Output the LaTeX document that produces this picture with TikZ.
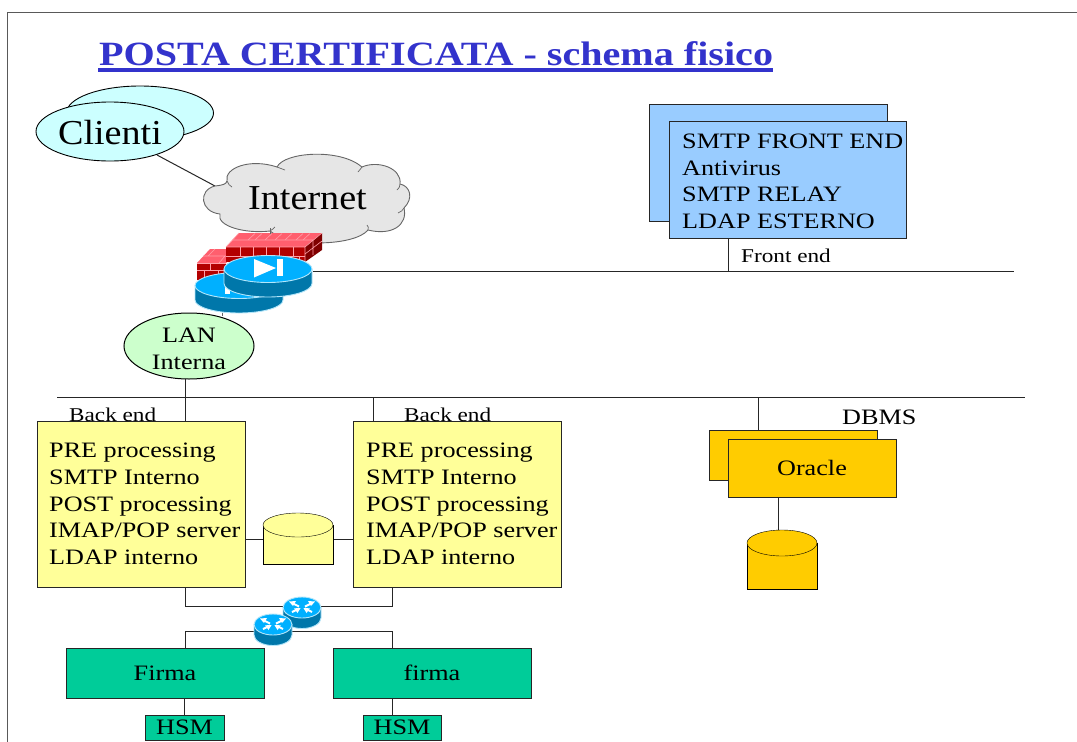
\documentclass[tikz,border=0pt]{standalone}
\usepackage{fontspec}
\usetikzlibrary{shapes.geometric}
\setmainfont{Liberation Serif}
\newfontfamily\spacedfont[FakeStretch=1.19]{Liberation Serif}
\newfontfamily\bigfont[FakeStretch=1.09]{Liberation Serif}
\newfontfamily\titlefont[FakeStretch=1.18]{Liberation Serif Bold}
\definecolor{cyanfill}{HTML}{CCFFFF}
\definecolor{bluefill}{HTML}{99CCFF}
\definecolor{greenfill}{HTML}{CCFFCC}
\definecolor{yellowfill}{HTML}{FFFF99}
\definecolor{orangefill}{HTML}{FFCC00}
\definecolor{tealfill}{HTML}{00CC99}
\definecolor{titleblue}{HTML}{3333CC}
\definecolor{cloudfill}{HTML}{E6E6E6}
\definecolor{rtop}{HTML}{00B0FF}
\definecolor{rside}{HTML}{0077AA}
\definecolor{redtop}{HTML}{FF5F6E}
\definecolor{redfront}{HTML}{B30000}
\definecolor{redside}{HTML}{7F0000}
\definecolor{brick}{HTML}{FF9FA8}
\tikzset{
  x=1pt,y=-1pt,
  line width=0.9pt,
  conn/.style={draw=black!85,line width=1pt},
  txtlabel/.style={inner sep=0pt,anchor=base west,font=\spacedfont\fontsize{22}{26.7}\selectfont,align=left},
  smalllabel/.style={inner sep=0pt,anchor=base west,font=\spacedfont\fontsize{19.5}{22}\selectfont},
  biglabel/.style={inner sep=0pt,anchor=center,font=\bigfont\fontsize{35}{38}\selectfont},
  boxnode/.style={draw=black!85,line width=1pt,inner sep=0pt,font=\spacedfont\fontsize{22}{26}\selectfont},
  thinmark/.style={draw=black!60,line width=0.7pt},
  brickline/.style={draw=brick,line width=0.6pt},
}
% cylinder: cx, top centre y, rx, ry, bottom centre y, top fill, side fill, edge
\newcommand{\cyl}[8]{%
  \path[draw=#8,line width=0.9pt,fill=#7]
    ({#1-#3},#2) -- ({#1-#3},#5) arc[start angle=180,end angle=360,x radius=#3,y radius=-#4]
    -- ({#1+#3},#2) -- cycle;
  \path[draw=#8,line width=0.9pt,fill=#6] (#1,#2) ellipse[x radius=#3,y radius=#4];
}
% small router cross arrows
\newcommand{\rcross}[2]{%
  \begin{scope}[shift={(#1,#2)},draw=white,fill=white,line width=2pt]
    \draw (-10,-4.5) -- (-3,-1); \draw (10,4.5) -- (3,1);
    \draw (10,-4.5) -- (3,-1); \draw (-10,4.5) -- (-3,1);
    \fill (-13,-6) -- (-6,-6.5) -- (-9,-1.5) -- cycle;
    \fill (13,-6) -- (6,-6.5) -- (9,-1.5) -- cycle;
    \fill (-1.5,0.6) -- (-8,0.8) -- (-4.5,5.5) -- cycle;
    \fill (1.5,0.6) -- (8,0.8) -- (4.5,5.5) -- cycle;
  \end{scope}}
\begin{document}
\begin{tikzpicture}
\useasboundingbox (0,0) rectangle (1077,742);
\fill[white] (0,0) rectangle (1077,742);
% slide frame
\draw[black!65,line width=1pt] (7.5,742) -- (7.5,12) -- (1077,12);
% title
\node[inner sep=0pt,anchor=base west,text=titleblue,font=\titlefont\fontsize{34}{36}\selectfont] (title) at (99,65) {POSTA CERTIFICATA - schema fisico};
\fill[titleblue] (98,68) rectangle (773,72);

% clients
\node[draw=black,line width=0.9pt,fill=cyanfill,ellipse,inner sep=0pt,minimum width=147pt,minimum height=54pt] (cliback) at (140,113) {};
\node[draw=black,line width=0.9pt,fill=cyanfill,ellipse,inner sep=0pt,minimum width=148pt,minimum height=59pt] (cliellipse) at (110,131.5) {};
\node[biglabel] (clienti) at (110,133) {Clienti};
\coordinate (cloudIn) at (215,186);
\coordinate (clientsEnd) at (157,155);
\draw[conn] (clientsEnd) -- (cloudIn);

% cloud
\path[draw=black!60,line width=0.9pt,fill=cloudfill]
  (215,186) .. controls (224,185) and (226,184) .. (227,181)
  .. controls (224,168) and (250,158) .. (277,167)
  .. controls (284,152) and (340,148) .. (362,167)
  .. controls (378,160) and (402,168) .. (400,184)
  .. controls (410,186) and (414,198) .. (404,208)
  .. controls (408,225) and (392,236) .. (368,230)
  .. controls (355,246) and (290,248) .. (270,231)
  .. controls (245,234) and (216,226) .. (220,214)
  .. controls (200,212) and (198,190) .. (215,186) -- cycle;
\draw[thinmark] (227,181) .. controls (228,184) and (230,186) .. (232,187);
\draw[thinmark] (277,167) .. controls (280,168) and (282,169) .. (285,170);
\draw[thinmark] (362,167) .. controls (361,168) and (360,170) .. (358,172);
\draw[thinmark] (400,184) .. controls (400,187) and (399,188) .. (397,190);
\draw[thinmark] (404,208) .. controls (403,210) and (401,212) .. (398,213);
\draw[thinmark] (368,230) .. controls (369,228) and (368,226) .. (367,225);
\draw[thinmark] (270,231) .. controls (272,230) and (274,228) .. (275,227);
\node[biglabel] (internet) at (307.5,198) {Internet};

% firewall small
\fill[redtop] (197,263) -- (210,249) -- (240,249) -- (226,263) -- cycle;
\fill[redfront] (197,263) rectangle (226,280);
\draw[brickline] (197,270) -- (226,270);
\draw[brickline] (197,263) -- (226,263) (210,263) -- (210,270) (204,270) -- (204,280) (218,270) -- (218,280);
\draw[brickline] (203,256) -- (233,256) (215,249) -- (208,256) (225,256) -- (219,263);
% firewall large
\fill[redtop] (226,247) -- (239,233) -- (322,233) -- (305,247) -- cycle;
\fill[redfront] (226,247) rectangle (305,262);
\fill[redside] (305,247) -- (322,233) -- (322,250) -- (305,262) -- cycle;
\draw[brickline] (232,240) -- (313,240) (226,247) -- (305,247) -- (322,233) (305,247) -- (305,262);
\draw[brickline] (239,233) -- (226,247);
\foreach \xx in {240,253,266,279,293} \draw[brickline] (\xx,247) -- (\xx,256);
\foreach \xx in {247,260,273,286,299} \draw[brickline] (\xx,256) -- (\xx,262);
\draw[brickline] (226,256) -- (305,256);
\foreach \xa/\xb in {255/248,272/265,292/285,310/303,262/255,282/275,303/296} \draw[brickline] (\xa,233.5) -- (\xb,240);
\draw[brickline] (305,254) -- (322,241) (313,240) -- (313,255);

\coordinate (fwTop) at (270,228);
\coordinate (fwBottom) at (270,234);
\draw[thinmark] (fwTop) -- (fwBottom);

% routers big
\cyl{239}{285.5}{44}{13}{300}{rtop}{rside}{cyan!30}
\fill[white] (224.5,287) rectangle (230,294);
\cyl{268}{269}{44}{13.5}{283.5}{rtop}{rside}{cyan!30}
\fill[white] (254,259) -- (254,277.5) -- (276,268) -- cycle;
\fill[white] (277,259) rectangle (283,276);
\coordinate (bigRouterEast) at (313,271);
\coordinate (frontBusEnd) at (1014,271);
\draw[conn] (bigRouterEast) -- (frontBusEnd);

% front-end boxes
\node[boxnode,fill=bluefill,minimum width=238pt,minimum height=117pt] (frontback) at (768,162.5) {};
\node[boxnode,fill=bluefill,minimum width=237pt,minimum height=117pt] (frontbox) at (787.5,179.5) {};
\node[txtlabel] (fronttext) at (682,228.5) {SMTP FRONT END\\Antivirus\\SMTP RELAY\\LDAP ESTERNO};
\coordinate (frontTap) at (728,271);
\draw[conn] (frontbox.south -| frontTap) -- (frontTap);
\node[smalllabel] (frontend) at (741,262) {Front end};

% LAN
\node[draw=black,line width=1pt,fill=greenfill,ellipse,inner sep=0pt,minimum width=130pt,minimum height=66pt] (lan) at (189,346) {};
\node[inner sep=0pt,font=\spacedfont\fontsize{22}{27}\selectfont,align=center] (lantext) at (189,349) {LAN\\Interna};

% back-end bus
\coordinate (busL) at (57,397);
\coordinate (busR) at (1025,397);
\draw[conn] (busL) -- (busR);

% yellow boxes
\node[boxnode,fill=yellowfill,minimum width=208pt,minimum height=166pt] (ybox1) at (141,504) {};
\node[boxnode,fill=yellowfill,minimum width=208pt,minimum height=166pt] (ybox2) at (457,504) {};
\node[txtlabel] (y1text) at (49,564.5) {PRE processing\\SMTP Interno\\POST processing\\IMAP/POP server\\LDAP interno};
\node[txtlabel] (y2text) at (366,564.5) {PRE processing\\SMTP Interno\\POST processing\\IMAP/POP server\\LDAP interno};
\node[smalllabel] (be1) at (69,421) {Back end};
\node[smalllabel] (be2) at (404,421) {Back end};
\coordinate (lanTap) at (185,379);
\draw[conn] (lanTap) -- (ybox1.north -| lanTap);
\coordinate (bus2) at (373,397);
\draw[conn] (bus2) -- (ybox2.north -| bus2);
\coordinate (lanUp) at (222,313);
\coordinate (lanUpEnd) at (222,316);
\draw[thinmark] (lanUp) -- (lanUpEnd);

% shared disk
\coordinate (diskW) at (263,539);
\coordinate (diskE) at (333,539);
\draw[conn] (ybox1.east |- diskW) -- (diskW);
\draw[conn] (diskE) -- (ybox2.west |- diskE);
\path[draw=black,fill=yellowfill] (263,525) rectangle (333,564);
\path[draw=black,fill=yellowfill] (298,525) ellipse[x radius=35,y radius=12];

% teal boxes and wiring
\node[boxnode,fill=tealfill,minimum width=198pt,minimum height=50pt] (firma1) at (165,673) {Firma};
\node[boxnode,fill=tealfill,minimum width=198pt,minimum height=50pt] (firma2) at (432,673) {firma};
\node[boxnode,fill=tealfill,minimum width=79pt,minimum height=25pt] (hsm1) at (184.5,727.5) {HSM};
\node[boxnode,fill=tealfill,minimum width=78pt,minimum height=25pt] (hsm2) at (402,727.5) {HSM};
\coordinate (upL) at (185,606);
\coordinate (upR) at (392,606);
\coordinate (lowL) at (185,631);
\coordinate (lowR) at (392,631);
\draw[conn] (ybox1.south -| upL) -- (upL) -- (upR) -- (ybox2.south -| upR);
\draw[conn] (firma1.north -| lowL) -- (lowL) -- (lowR) -- (firma2.north -| lowR);
\draw[conn] (firma1.south -| hsm1) -- (hsm1.north);
\draw[conn] (firma2.south -| lowR) -- (hsm2.north -| lowR);
\cyl{302}{607.5}{19}{10.5}{618}{rtop}{rside}{cyan!30}
\rcross{302}{607.5}
\cyl{273}{624.5}{19}{10.5}{635}{rtop}{rside}{cyan!30}
\rcross{273}{624.5}

% DBMS
\coordinate (dbTap) at (758,397);
\node[boxnode,fill=orangefill,minimum width=168pt,minimum height=50pt] (oback) at (793,455) {};
\draw[conn] (dbTap) -- (oback.north -| dbTap);
\node[boxnode,fill=orangefill,minimum width=168pt,minimum height=58pt] (oracle) at (812,468) {Oracle};
\node[txtlabel] (dbms) at (842,424) {DBMS};
\coordinate (dbCyl) at (778,530);
\draw[conn] (oracle.south -| dbCyl) -- (dbCyl);
\path[draw=black,fill=orangefill] (747,543) rectangle (817,589);
\path[draw=black,fill=orangefill] (782,543) ellipse[x radius=35,y radius=13];
\end{tikzpicture}
\end{document}
